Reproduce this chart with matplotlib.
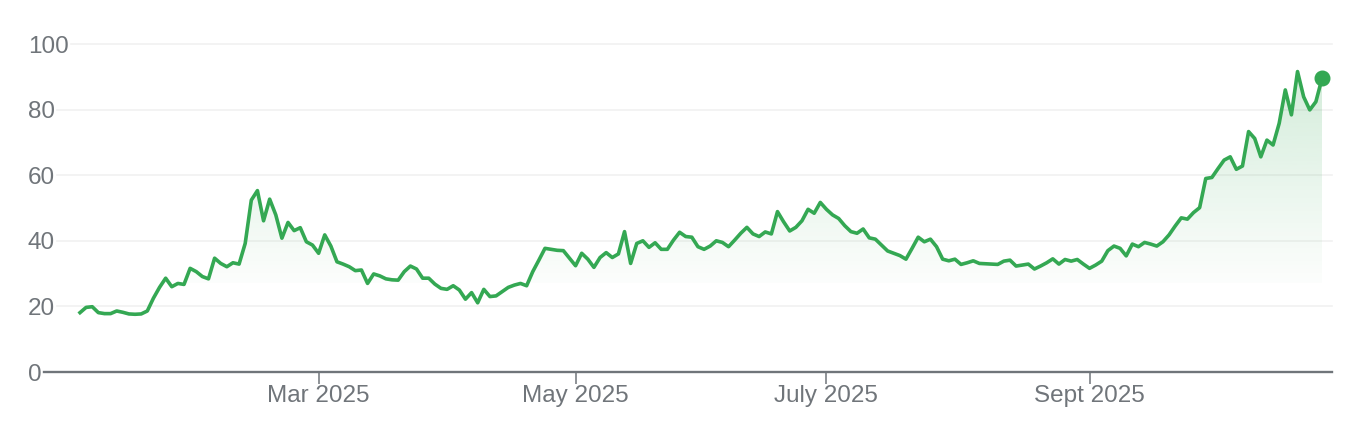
import matplotlib
matplotlib.use("Agg")
import matplotlib.pyplot as plt
import matplotlib.transforms as mtransforms
from matplotlib.colors import to_rgb
from matplotlib.patches import Polygon
import numpy as np
import pandas as pd

plt.rcParams["font.family"] = ["Liberation Sans", "DejaVu Sans"]

# trading days (NYSE closures removed), Jan 2 -> Oct 24 2025
holidays = ["2025-01-01", "2025-01-09", "2025-01-20", "2025-02-17", "2025-04-18",
            "2025-05-26", "2025-06-19", "2025-07-04", "2025-09-01"]
dates = pd.bdate_range("2025-01-02", "2025-10-24", freq="C", holidays=holidays)

# closing prices
prices = [
    18.1, 19.7, 19.9, 18.1, 17.8, 17.8, 18.6, 18.2, 17.7, 17.6,
    17.7, 18.6, 22.5, 25.8, 28.6, 26.0, 27.0, 26.7, 31.6, 30.6,
    29.1, 28.4, 34.7, 33.1, 32.1, 33.3, 32.9, 39.2, 52.4, 55.3,
    46.1, 52.7, 47.9, 40.8, 45.6, 43.1, 44.0, 39.7, 38.7, 36.2,
    41.8, 38.4, 33.6, 32.9, 32.1, 30.9, 31.1, 27.0, 29.9, 29.3,
    28.4, 28.1, 28.0, 30.6, 32.3, 31.4, 28.6, 28.6, 26.8, 25.5,
    25.2, 26.3, 25.0, 22.2, 24.2, 21.1, 25.2, 23.0, 23.2, 24.5,
    25.8, 26.5, 27.0, 26.3, 30.6, 34.1, 37.7, 37.4, 37.1, 37.0,
    34.7, 32.4, 36.2, 34.4, 31.9, 34.9, 36.4, 34.9, 36.0, 42.8,
    33.1, 39.2, 40.0, 38.0, 39.4, 37.4, 37.4, 40.2, 42.6, 41.3,
    41.1, 38.2, 37.4, 38.4, 40.0, 39.5, 38.2, 40.2, 42.3, 44.1,
    42.1, 41.3, 42.7, 42.1, 48.9, 45.8, 43.0, 44.1, 46.1, 49.6,
    48.4, 51.7, 49.6, 47.9, 46.8, 44.6, 42.8, 42.3, 43.6, 40.9,
    40.5, 38.7, 36.9, 36.2, 35.5, 34.4, 37.7, 41.1, 39.7, 40.5,
    38.2, 34.4, 33.9, 34.4, 32.8, 33.3, 33.9, 33.1, 33.0, 32.9,
    32.8, 33.8, 34.1, 32.3, 32.6, 32.9, 31.4, 32.3, 33.3, 34.5,
    32.9, 34.3, 33.8, 34.3, 32.9, 31.6, 32.6, 33.8, 37.0, 38.4,
    37.7, 35.4, 39.0, 38.2, 39.5, 39.0, 38.4, 39.7, 41.8, 44.5,
    47.0, 46.6, 48.6, 50.1, 59.0, 59.3, 62.0, 64.6, 65.6, 61.8,
    62.8, 73.3, 71.2, 65.6, 70.7, 69.2, 75.8, 86.0, 78.4, 91.6,
    83.9, 79.9, 82.4, 89.5,
]

tick_months = ["2025-03-01", "2025-05-01", "2025-07-01", "2025-09-01"]
tick_labels = ["Mar 2025", "May 2025", "July 2025", "Sept 2025"]
y_ticks = [0, 20, 40, 60, 80, 100]

GREEN = "#34a853"
TEXT = "#70757a"
GRID = "#f1f1f1"
AXIS = "#70757a"

n = min(len(dates), len(prices))
x = np.arange(n)
y = np.array(prices[:n])

W, H = 1350, 426
fig = plt.figure(figsize=(W / 100, H / 100), dpi=100)
ax = fig.add_axes([28 / W, 1 - 372 / H, 1304 / W, 328 / H])
for s in ax.spines.values():
    s.set_visible(False)

# gradient fill under the line
base = 27
rgba = np.zeros((256, 1, 4))
rgba[..., :3] = to_rgb(GREEN)
rgba[..., 3] = np.linspace(0.015, 0.24, 256)[:, None]
im = ax.imshow(rgba, extent=[0, n - 1, base, 100], origin="lower",
               aspect="auto", interpolation="bicubic", zorder=1)
verts = np.column_stack([np.r_[x, x[::-1]],
                         np.r_[np.maximum(y, base), np.full(n, base)]])
clip = Polygon(verts, closed=True, facecolor="none", edgecolor="none",
               transform=ax.transData)
ax.add_patch(clip)
im.set_clip_path(clip)

ax.plot(x, y, color=GREEN, lw=2.6, solid_joinstyle="round", zorder=4)
ax.plot(x[-1], y[-1], "o", color=GREEN, ms=10.5, zorder=5, clip_on=False)

step = 6.118  # px per trading day
ax.set_xlim(-(80 - 28) / step, (n - 1) + 10 / step)
ax.set_ylim(0, 100)

tick_idx = [int(np.argmax(dates[:n] >= pd.Timestamp(d))) for d in tick_months]
ax.set_xticks(tick_idx, tick_labels)
ax.tick_params(axis="x", length=8.6, width=1.1, color=AXIS, labelcolor=TEXT,
               labelsize=17.5, pad=0.5)
ax.set_yticks([])

# y labels sit inside the plot, left-aligned; grid starts after each label
trans = mtransforms.offset_copy(
    mtransforms.blended_transform_factory(ax.transAxes, ax.transData),
    fig=fig, x=0, y=-8.7, units="dots")
labels = []
for v in y_ticks:
    labels.append(ax.text(0, v, str(v), transform=trans, ha="left",
                          va="baseline", fontsize=17.5, color=TEXT))

fig.canvas.draw()
r = fig.canvas.get_renderer()
abox = ax.get_window_extent(r)
for v, t in zip(y_ticks, labels):
    bb = t.get_window_extent(r)
    start = (bb.x1 + 2 - abox.x0) / abox.width
    if v == 0:
        ax.axhline(v, xmin=start, xmax=1, color=AXIS, lw=1.7, zorder=3,
                   clip_on=False)
    else:
        ax.axhline(v, xmin=start, xmax=1, color=GRID, lw=1.2, zorder=0,
                   clip_on=False)

fig.savefig("out.png", dpi=100)
